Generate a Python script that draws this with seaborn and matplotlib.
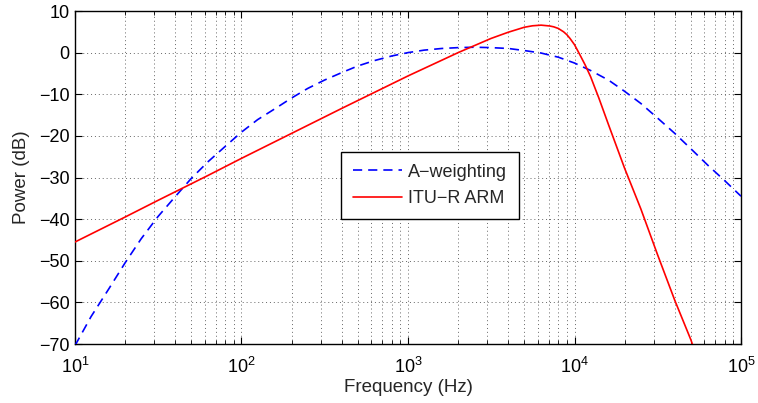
import matplotlib
matplotlib.use("Agg")
import matplotlib.pyplot as plt
import matplotlib.ticker as mticker
import numpy as np
import pandas as pd
import seaborn as sns

# A-weighting response (Hz, dB)
a_freq = [10, 12.5, 16, 20, 25, 31.5, 40, 50, 63, 80, 100, 125, 160, 200, 250,
          315, 400, 500, 630, 800, 1000, 1250, 1600, 2000, 2500, 3150, 4000,
          5000, 6300, 8000, 10000, 12500, 16000, 20000, 25000, 31500, 40000,
          50000, 63000, 80000, 100000]
a_db = [-70.4, -63.4, -56.7, -50.5, -44.7, -39.4, -34.6, -30.2, -26.2, -22.5,
        -19.1, -16.1, -13.4, -10.9, -8.6, -6.6, -4.8, -3.2, -1.9, -0.8, 0.0,
        0.6, 1.0, 1.2, 1.3, 1.2, 1.0, 0.5, -0.1, -1.1, -2.5, -4.3, -6.6, -9.3,
        -12.2, -15.7, -19.4, -23.1, -27.0, -30.8, -34.5]

# ITU-R ARM (468-based) response (Hz, dB)
itu_freq = [10, 20, 31.5, 63, 100, 200, 400, 800, 1000, 2000, 3150, 4000, 5000,
            5600, 6300, 7100, 7500, 8000, 8600, 9000, 9400, 10000, 10800, 11600,
            12500, 13300, 14000, 16000, 20000, 25000, 31500, 40000, 50000, 52000]
itu_db = [-45.5, -39.5, -35.5, -29.5, -25.4, -19.4, -13.4, -7.5, -5.6, 0.0, 3.4,
          4.9, 6.1, 6.45, 6.6, 6.4, 6.2, 5.8, 5.0, 4.3, 3.4, 1.9, -0.6, -3.0,
          -5.8, -8.6, -10.9, -17.3, -27.8, -37.5, -48.5, -59.5, -69.0, -71.0]

series_names = ["A\u2212weighting", "ITU\u2212R ARM"]
x_ticks = [10, 100, 1000, 10000, 100000]
y_ticks = [-70, -60, -50, -40, -30, -20, -10, 0, 10]

sns.set_style("white")
plt.rcParams["font.family"] = ["Liberation Sans", "DejaVu Sans"]
plt.rcParams["mathtext.fontset"] = "custom"
plt.rcParams["mathtext.rm"] = "Liberation Sans"
plt.rcParams["mathtext.it"] = "Liberation Sans"
plt.rcParams["mathtext.default"] = "regular"

fig = plt.figure(figsize=(7.58, 4.03), dpi=100)
ax = fig.add_axes([0.0989, 0.1464, 0.8787, 0.8263])

df_a = pd.DataFrame({"Frequency": a_freq, "Power": a_db})
df_i = pd.DataFrame({"Frequency": itu_freq, "Power": itu_db})

sns.lineplot(data=df_a, x="Frequency", y="Power", ax=ax, color=(0, 0, 1),
             lw=1.2, label=series_names[0], zorder=3)
sns.lineplot(data=df_i, x="Frequency", y="Power", ax=ax, color=(1, 0, 0),
             lw=1.2, label=series_names[1], zorder=3)
ax.lines[0].set_linestyle((0, (5.5, 3.6)))

ax.set_xscale("log")
ax.set_xlim(10, 1e5)
ax.set_ylim(-70, 10)
ax.set_xticks(x_ticks)
ax.set_yticks(y_ticks)
ax.xaxis.set_major_formatter(mticker.LogFormatterSciNotation())
ax.xaxis.set_minor_locator(mticker.LogLocator(base=10, subs=np.arange(2, 10)))
ax.xaxis.set_minor_formatter(mticker.NullFormatter())
ax.set_yticklabels([f"{v}".replace("-", "\u2212") for v in y_ticks])

ax.grid(True, which="major", axis="both", linestyle=(0, (1, 3)),
        color="0.4", lw=0.7)
ax.grid(True, which="minor", axis="x", linestyle=(0, (1, 3)),
        color="0.4", lw=0.7)
ax.set_axisbelow(True)

ax.tick_params(which="both", direction="in", top=True, right=True,
               bottom=True, left=True, colors="black", labelsize=13)
ax.tick_params(which="major", length=5, width=0.8)
ax.tick_params(which="minor", length=3, width=0.6)
ax.tick_params(axis="x", pad=9)
ax.tick_params(axis="y", pad=4)
for s in ax.spines.values():
    s.set_color("black")
    s.set_linewidth(1.0)

ax.set_xlabel("Frequency (Hz)", fontsize=13.5, labelpad=2)
ax.set_ylabel("Power (dB)", fontsize=13.5, labelpad=6)

leg = ax.legend(loc="center", bbox_to_anchor=(0.533, 0.476), fontsize=13,
                frameon=True, fancybox=False, edgecolor="black",
                handlelength=2.7, handletextpad=0.35, borderpad=0.65,
                labelspacing=0.55, borderaxespad=0)
leg.get_frame().set_linewidth(1.0)
leg.get_frame().set_facecolor("white")
leg.get_frame().set_alpha(1.0)

fig.savefig("out.png", dpi=100)
